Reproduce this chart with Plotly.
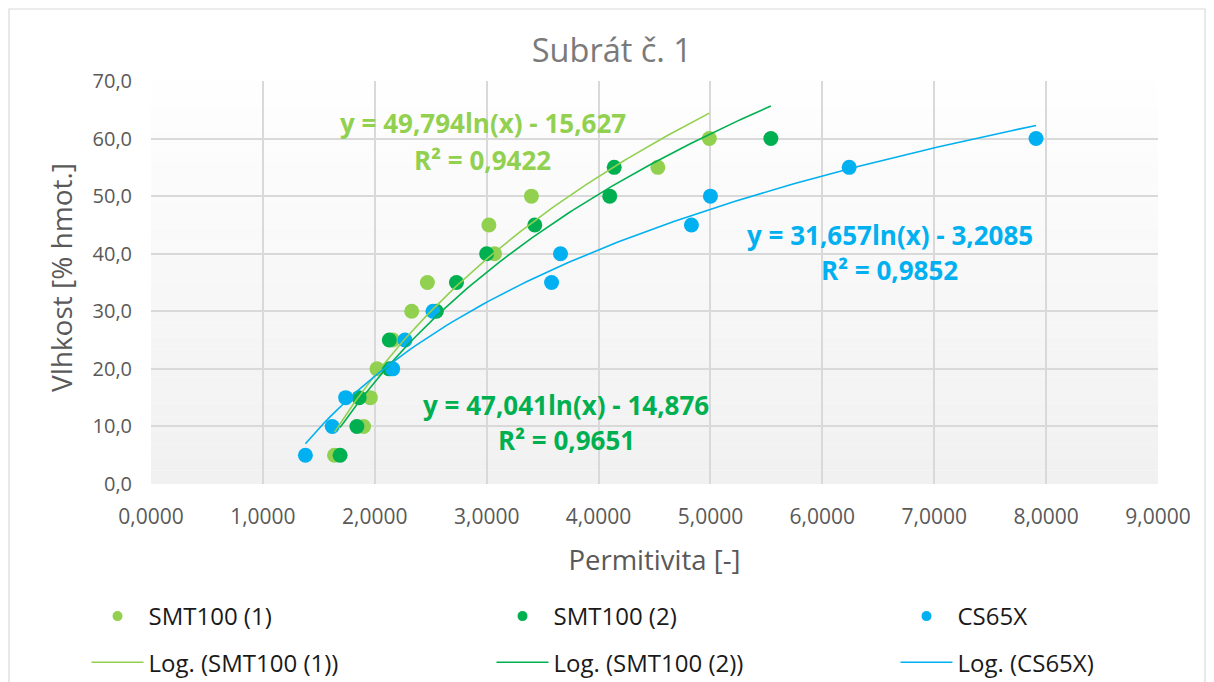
import numpy as np
import plotly.graph_objects as go

# measured points (permitivita vs vlhkost)
smt1_x = [1.64, 1.90, 1.96, 2.02, 2.16, 2.33, 2.47, 3.07, 3.02, 3.40, 4.53, 4.99]
smt1_y = [5, 10, 15, 20, 25, 30, 35, 40, 45, 50, 55, 60]

smt2_x = [1.69, 1.84, 1.86, 2.13, 2.13, 2.55, 2.73, 3.00, 3.43, 4.10, 4.14, 5.54]
smt2_y = [5, 10, 15, 20, 25, 30, 35, 40, 45, 50, 55, 60]

cs_x = [1.38, 1.62, 1.74, 2.16, 2.27, 2.52, 3.58, 3.66, 4.83, 5.00, 6.24, 7.91]
cs_y = [5, 10, 15, 20, 25, 30, 35, 40, 45, 50, 55, 60]

# logarithmic trendline coefficients as printed on the chart: y = a*ln(x) + b
smt1_fit = (49.794, -15.627, "0,9422")
smt2_fit = (47.041, -14.876, "0,9651")
cs_fit = (31.657, -3.2085, "0,9852")

C_SMT1 = "#92D050"
C_SMT2 = "#00B050"
C_CS = "#00B0F0"
GREY = "#595959"
FONT = "Open Sans"


def trend(xs, fit):
    t = np.linspace(min(xs), max(xs), 120)
    return t, fit[0] * np.log(t) + fit[1]


def eq_text(fit):
    a = f"{fit[0]:.3f}".replace(".", ",")
    b = f"{abs(fit[1])}".replace(".", ",")
    return f"y = {a}ln(x) - {b}"


fig = go.Figure()

series = [
    ("SMT100 (1)", smt1_x, smt1_y, smt1_fit, C_SMT1, "legend"),
    ("SMT100 (2)", smt2_x, smt2_y, smt2_fit, C_SMT2, "legend2"),
    ("CS65X", cs_x, cs_y, cs_fit, C_CS, "legend3"),
]

for name, xs, ys, fit, col, leg in series:
    # points drawn at full size, legend entry gets a smaller marker
    fig.add_scatter(x=xs, y=ys, mode="markers", name=name, showlegend=False,
                    marker=dict(color=col, size=15))
    fig.add_scatter(x=[None], y=[None], mode="markers", name=name, legendgroup=name,
                    marker=dict(color=col, size=10), legend=leg)

for name, xs, ys, fit, col, leg in series:
    tx, ty = trend(xs, fit)
    fig.add_scatter(x=tx, y=ty, mode="lines", name=f"Log. ({name})",
                    legendgroup="log " + name,
                    line=dict(color=col, width=1.6), legend=leg)

# equation labels
labels = [
    (smt1_fit, C_SMT1, 2.963, 62.7, 56.3),
    (smt2_fit, C_SMT2, 3.709, 13.7, 7.6),
    (cs_fit, C_CS, 6.604, 43.25, 37.2),
]
for fit, col, lx, ly1, ly2 in labels:
    fig.add_annotation(x=lx, y=ly1, text=f"<b>{eq_text(fit)}</b>", showarrow=False,
                       font=dict(family=FONT, size=26, color=col))
    fig.add_annotation(x=lx, y=ly2, text=f"<b>R² = {fit[2]}</b>", showarrow=False,
                       font=dict(family=FONT, size=26, color=col))

# y axis title
fig.add_annotation(x=(61 - 151) / 1007, y=0.511, xref="paper", yref="paper",
                   xanchor="center", yanchor="middle",
                   text="Vlhkost [% hmot.]", textangle=-90, showarrow=False,
                   font=dict(family=FONT, size=28, color=GREY))

# soft vertical gradient of the plot area
n = 30
for i in range(n):
    g = int(255 - 14 * (i + 0.5) / n)
    fig.add_shape(type="rect", xref="x domain", yref="y domain",
                  x0=0, x1=1, y0=1 - (i + 1) / n, y1=1 - i / n,
                  fillcolor=f"rgb({g},{g},{g})", line_width=0, layer="below")

# outer chart border
fig.add_shape(type="rect", xref="paper", yref="paper",
              x0=-0.141, x1=1.0467, y0=-0.6, y1=1.1787,
              line=dict(color="#d9d9d9", width=1.2), fillcolor="rgba(0,0,0,0)")

legend_style = dict(orientation="v", xref="container", yref="container",
                    y=1 - 594 / 682, yanchor="top", xanchor="left",
                    itemwidth=52, tracegroupgap=12,
                    bgcolor="rgba(0,0,0,0)", borderwidth=0,
                    font=dict(family=FONT, size=24, color="#1a1a1a"))

fig.update_layout(
    width=1214, height=682,
    margin=dict(l=151, r=56, t=81, b=198, autoexpand=False),
    paper_bgcolor="white", plot_bgcolor="white",
    separators=", ",
    font=dict(family=FONT, color=GREY),
    title=dict(text="Subrát č. 1", x=0.504, xref="container", y=0.926, yanchor="middle",
               font=dict(size=32.5, color="#7a7a7a")),
    xaxis=dict(range=[0, 9], dtick=1, tickformat=".4f", showgrid=True,
               gridcolor="#d9d9d9", gridwidth=1.5, zeroline=False, showline=False,
               ticks="", ticklabelstandoff=18,
               tickfont=dict(size=21, color=GREY),
               title=dict(text="Permitivita [-]", font=dict(size=27.5, color=GREY), standoff=21)),
    yaxis=dict(range=[0, 70], dtick=10, tickformat=".1f", showgrid=True,
               gridcolor="#d9d9d9", gridwidth=1.5, zeroline=False, showline=False,
               ticks="", ticklabelstandoff=18,
               tickfont=dict(size=20, color=GREY)),
    legend=dict(legend_style, x=86.5 / 1214),
    legend2=dict(legend_style, x=491.5 / 1214),
    legend3=dict(legend_style, x=895.5 / 1214),
)

fig.write_html("out.html", config={"displayModeBar": False},
               post_script="document.body.style.margin='0';")
